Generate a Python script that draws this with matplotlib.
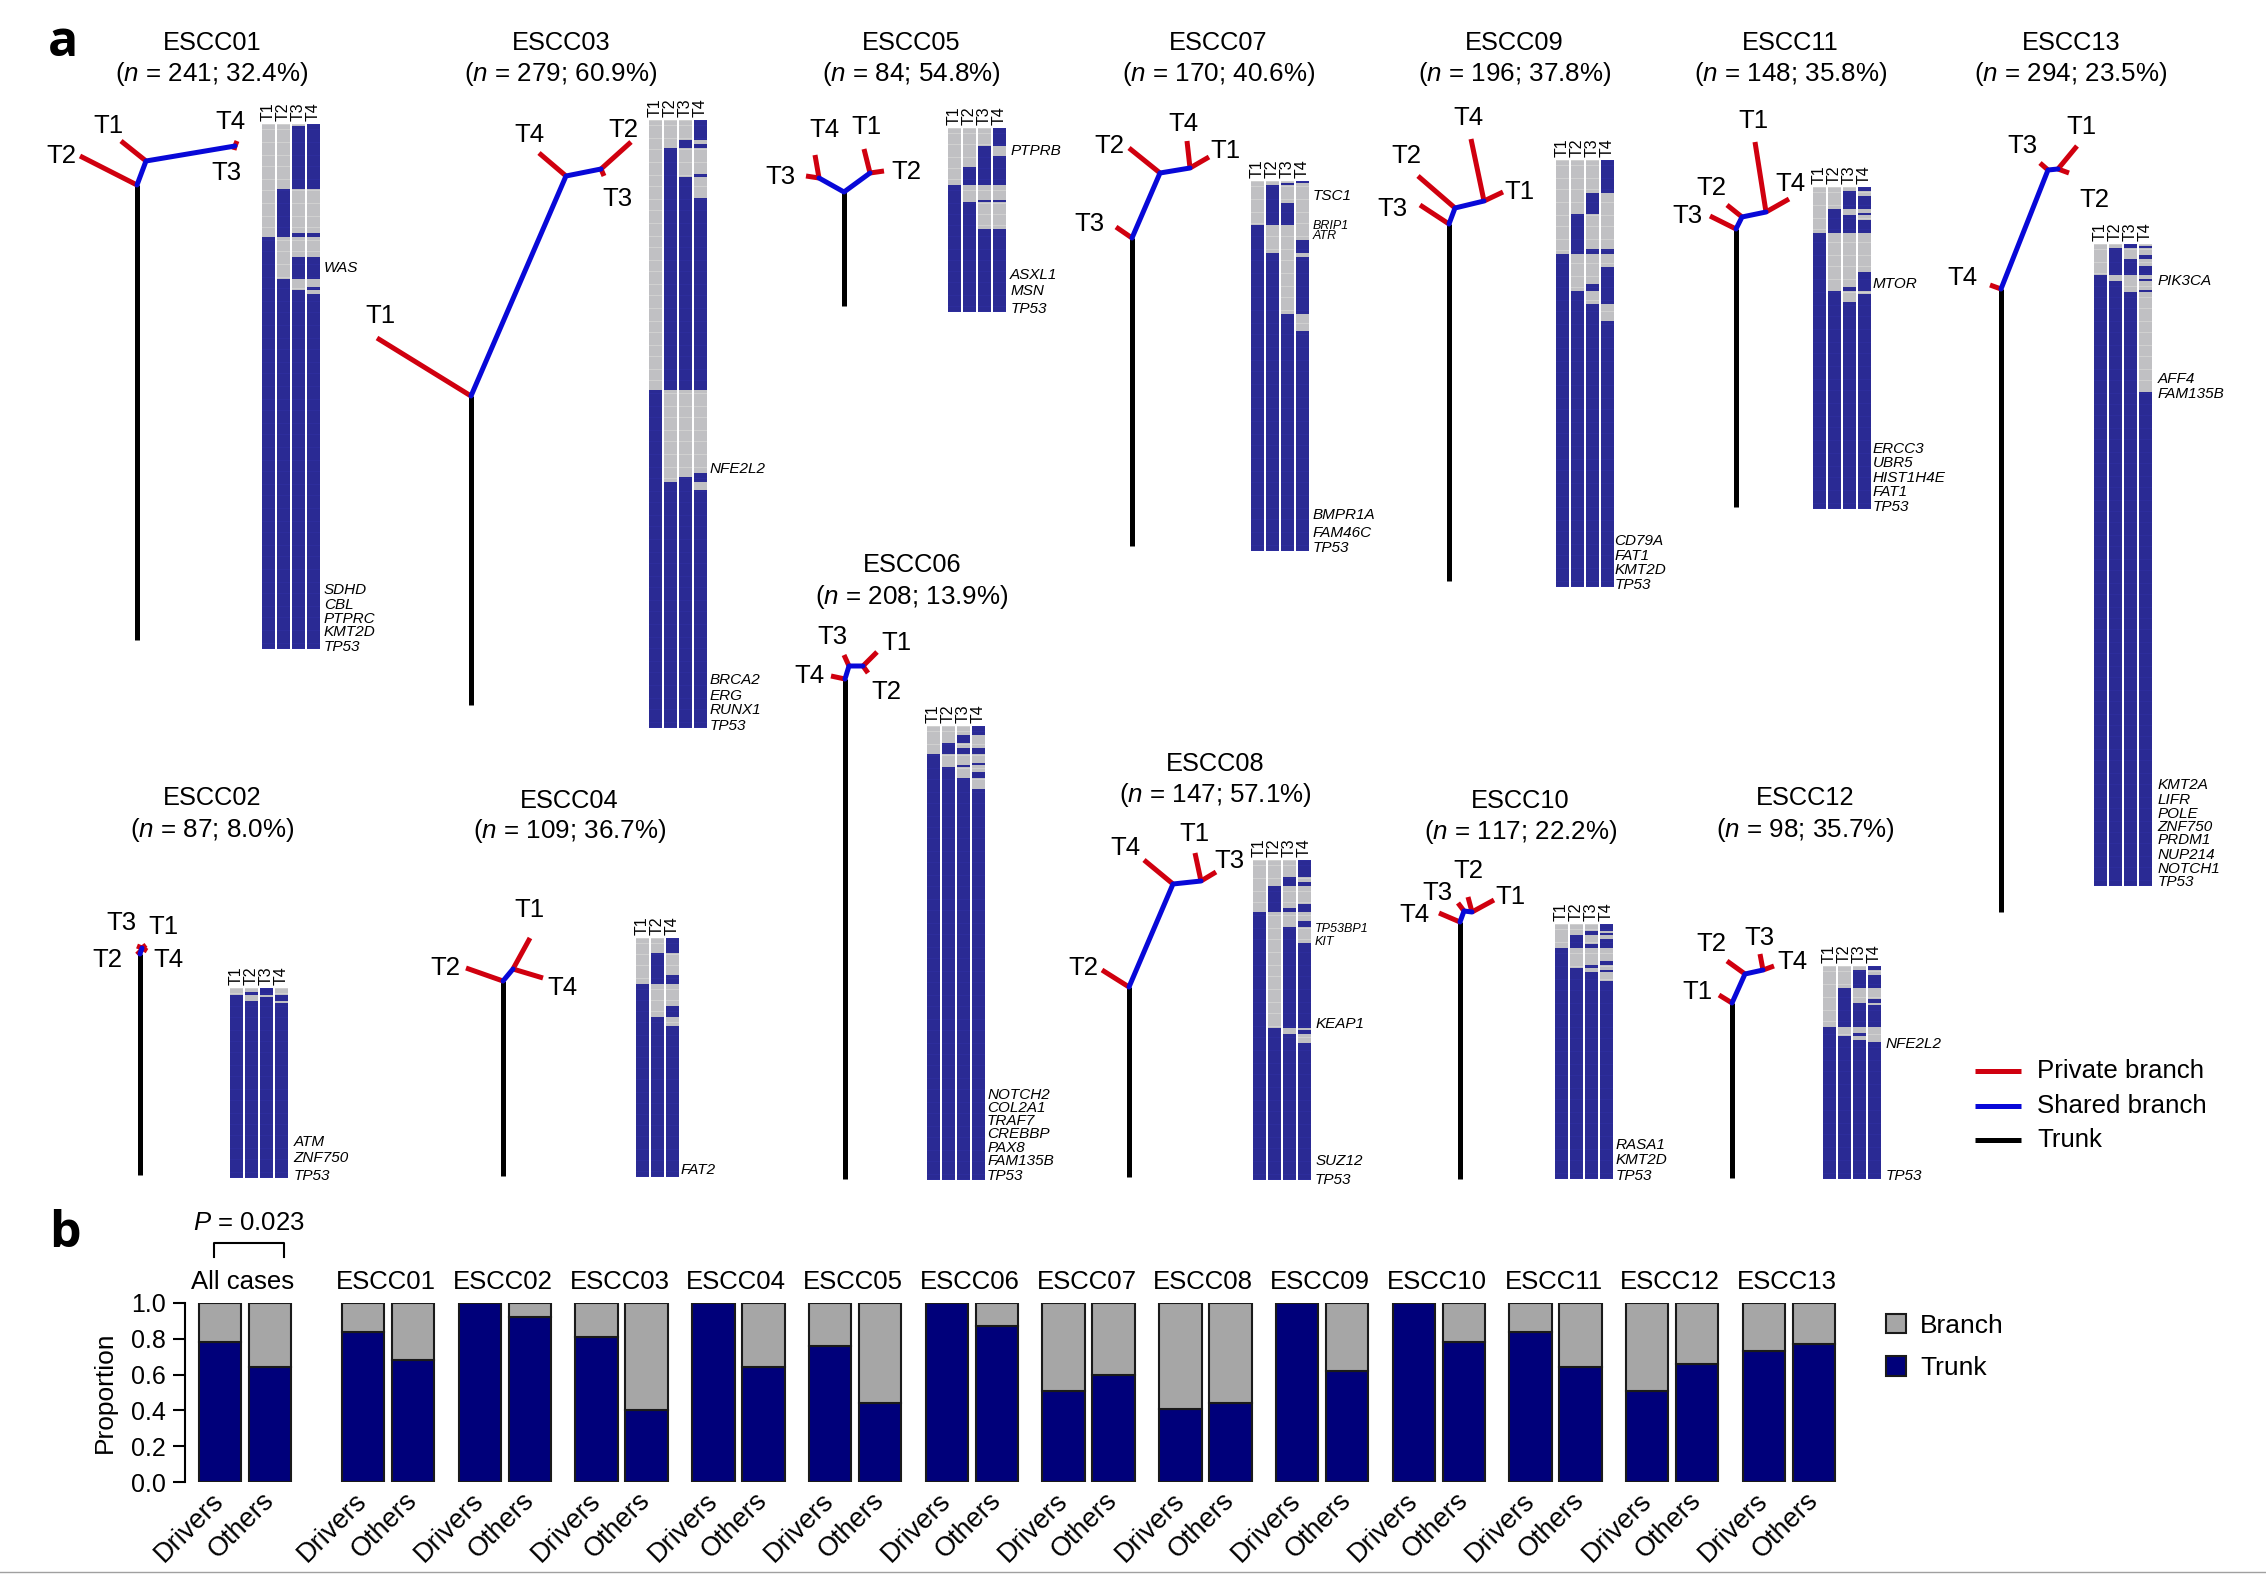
import numpy as np
import matplotlib
matplotlib.use('Agg')
import matplotlib.pyplot as plt
from matplotlib.colors import ListedColormap
from matplotlib.patches import Patch
from matplotlib.transforms import ScaledTranslation

plt.rcParams['font.family'] = ['Liberation Sans', 'DejaVu Sans']
plt.rcParams['mathtext.fontset'] = 'custom'
plt.rcParams['mathtext.rm'] = 'Liberation Sans'
plt.rcParams['mathtext.it'] = 'Liberation Sans:italic'

SHRINK = 2266 / 1568

# ---- panel a data: mutation counts and clonal percentage
CASES = ['ESCC01', 'ESCC02', 'ESCC03', 'ESCC04', 'ESCC05', 'ESCC06', 'ESCC07',
         'ESCC08', 'ESCC09', 'ESCC10', 'ESCC11', 'ESCC12', 'ESCC13']
N_MUT = [241, 87, 279, 109, 84, 208, 170, 147, 196, 117, 148, 98, 294]
PCT = [32.4, 8.0, 60.9, 36.7, 54.8, 13.9, 40.6, 57.1, 37.8, 22.2, 35.8, 35.7, 23.5]

# rows where each tumour region carries the mutation, as (first, last) runs
RUNS = {
    'ESCC01': [[(52, 241)],
               [(30, 52), (71, 241)],
               [(1, 30), (50, 52), (61, 71), (76, 241)],
               [(0, 30), (50, 52), (61, 71), (75, 76), (78, 241)]],
    'ESCC02': [[(3, 87)],
               [(2, 3), (6, 87)],
               [(0, 3), (4, 87)],
               [(3, 6), (7, 87)]],
    'ESCC03': [[(124, 279)],
               [(13, 124), (166, 279)],
               [(9, 13), (26, 124), (164, 279)],
               [(0, 9), (11, 13), (25, 26), (36, 124), (162, 166), (170, 279)]],
    'ESCC04': [[(21, 109)],
               [(7, 21), (36, 109)],
               [(0, 7), (17, 21), (31, 36), (40, 109)]],
    'ESCC05': [[(26, 84)],
               [(18, 26), (34, 84)],
               [(8, 26), (33, 34), (46, 84)],
               [(0, 8), (13, 26), (33, 34), (46, 84)]],
    'ESCC06': [[(13, 208)],
               [(8, 13), (19, 208)],
               [(4, 8), (10, 13), (18, 19), (24, 208)],
               [(0, 4), (10, 13), (17, 18), (21, 24), (29, 208)]],
    'ESCC07': [[(20, 170)],
               [(2, 20), (33, 170)],
               [(1, 2), (10, 20), (61, 170)],
               [(0, 1), (27, 33), (35, 61), (69, 170)]],
    'ESCC08': [[(24, 147)],
               [(12, 24), (77, 147)],
               [(8, 12), (22, 24), (31, 77), (80, 147)],
               [(0, 8), (10, 12), (20, 24), (28, 31), (38, 77), (78, 80), (84, 147)]],
    'ESCC09': [[(43, 196)],
               [(25, 43), (60, 196)],
               [(15, 25), (41, 43), (57, 60), (66, 196)],
               [(0, 15), (41, 43), (49, 66), (74, 196)]],
    'ESCC10': [[(11, 117)],
               [(5, 11), (20, 117)],
               [(3, 5), (9, 11), (19, 20), (22, 117)],
               [(0, 3), (4, 5), (7, 11), (17, 19), (21, 22), (26, 117)]],
    'ESCC11': [[(21, 148)],
               [(10, 21), (48, 148)],
               [(2, 10), (13, 21), (46, 48), (53, 148)],
               [(0, 2), (4, 10), (12, 13), (15, 21), (39, 48), (49, 148)]],
    'ESCC12': [[(28, 98)],
               [(10, 28), (32, 98)],
               [(2, 10), (17, 28), (31, 32), (34, 98)],
               [(0, 2), (4, 10), (15, 17), (18, 28), (35, 98)]],
    'ESCC13': [[(14, 294)],
               [(2, 14), (17, 294)],
               [(0, 2), (7, 14), (22, 294)],
               [(1, 2), (5, 7), (10, 14), (16, 17), (21, 22), (68, 294)]],
}
REGIONS = {c: ['T1', 'T2', 'T3', 'T4'] for c in CASES}
REGIONS['ESCC04'] = ['T1', 'T2', 'T4']

GENES = {
    'ESCC01': ['WAS', 'SDHD', 'CBL', 'PTPRC', 'KMT2D', 'TP53'],
    'ESCC02': ['ATM', 'ZNF750', 'TP53'],
    'ESCC03': ['NFE2L2', 'BRCA2', 'ERG', 'RUNX1', 'TP53'],
    'ESCC04': ['FAT2'],
    'ESCC05': ['PTPRB', 'ASXL1', 'MSN', 'TP53'],
    'ESCC06': ['NOTCH2', 'COL2A1', 'TRAF7', 'CREBBP', 'PAX8', 'FAM135B', 'TP53'],
    'ESCC07': ['TSC1', 'BRIP1', 'ATR', 'BMPR1A', 'FAM46C', 'TP53'],
    'ESCC08': ['TP53BP1', 'KIT', 'KEAP1', 'SUZ12', 'TP53'],
    'ESCC09': ['CD79A', 'FAT1', 'KMT2D', 'TP53'],
    'ESCC10': ['RASA1', 'KMT2D', 'TP53'],
    'ESCC11': ['MTOR', 'ERCC3', 'UBR5', 'HIST1H4E', 'FAT1', 'TP53'],
    'ESCC12': ['NFE2L2', 'TP53'],
    'ESCC13': ['PIK3CA', 'AFF4', 'FAM135B', 'KMT2A', 'LIFR', 'POLE', 'ZNF750',
               'PRDM1', 'NUP214', 'NOTCH1', 'TP53'],
}

# phylogenetic trees in image pixels
TRUNK = {
    'ESCC01': (137, 185, 640), 'ESCC02': (140, 954, 1175), 'ESCC03': (471, 396, 705),
    'ESCC04': (503, 981, 1176), 'ESCC05': (844, 192, 306), 'ESCC06': (845, 679, 1179),
    'ESCC07': (1132, 238, 546), 'ESCC08': (1129, 987, 1177), 'ESCC09': (1449, 224, 581),
    'ESCC10': (1460, 922, 1179), 'ESCC11': (1736, 229, 507), 'ESCC12': (1732, 1003, 1178),
    'ESCC13': (2001, 289, 912),
}
SHARED = {
    'ESCC01': [[(137, 185), (146, 161), (235, 146)]],
    'ESCC02': [[(140, 954), (142, 948)]],
    'ESCC03': [[(471, 396), (566, 176), (601, 169)]],
    'ESCC04': [[(503, 981), (513, 969)]],
    'ESCC05': [[(819, 178), (844, 192), (870, 173)]],
    'ESCC06': [[(845, 679), (849, 666), (863, 666)]],
    'ESCC07': [[(1132, 238), (1160, 173), (1190, 168)]],
    'ESCC08': [[(1129, 987), (1173, 884), (1201, 881)]],
    'ESCC09': [[(1449, 224), (1455, 208), (1484, 201)]],
    'ESCC10': [[(1460, 922), (1464, 911), (1472, 912)]],
    'ESCC11': [[(1736, 229), (1742, 217), (1766, 212)]],
    'ESCC12': [[(1732, 1003), (1745, 974), (1763, 970)]],
    'ESCC13': [[(2001, 289), (2048, 170), (2058, 169)]],
}
PRIVATE = {
    'ESCC01': [[(137, 185), (80, 156)], [(146, 161), (121, 141)],
               [(235, 146), (237, 141)], [(235, 146), (234, 150)]],
    'ESCC02': [[(142, 948), (137, 946)], [(142, 948), (146, 945)],
               [(142, 948), (147, 951)], [(140, 954), (137, 951)]],
    'ESCC03': [[(471, 396), (377, 338)], [(566, 176), (539, 153)],
               [(601, 169), (631, 142)], [(601, 169), (604, 176)]],
    'ESCC04': [[(503, 981), (466, 968)], [(513, 969), (530, 938)],
               [(513, 969), (543, 978)]],
    'ESCC05': [[(819, 178), (815, 155)], [(819, 178), (806, 176)],
               [(870, 173), (864, 149)], [(870, 173), (884, 171)]],
    'ESCC06': [[(845, 679), (831, 676)], [(849, 666), (844, 655)],
               [(863, 666), (877, 652)], [(863, 666), (868, 673)]],
    'ESCC07': [[(1132, 238), (1116, 227)], [(1160, 173), (1129, 148)],
               [(1190, 168), (1187, 141)], [(1190, 168), (1209, 157)]],
    'ESCC08': [[(1129, 987), (1102, 970)], [(1173, 884), (1144, 860)],
               [(1201, 881), (1195, 853)], [(1201, 881), (1216, 872)]],
    'ESCC09': [[(1449, 224), (1420, 205)], [(1455, 208), (1418, 176)],
               [(1484, 201), (1471, 139)], [(1484, 201), (1503, 192)]],
    'ESCC10': [[(1460, 922), (1439, 913)], [(1464, 911), (1458, 903)],
               [(1472, 912), (1468, 897)], [(1472, 912), (1494, 900)]],
    'ESCC11': [[(1736, 229), (1710, 216)], [(1742, 217), (1727, 205)],
               [(1766, 212), (1755, 142)], [(1766, 212), (1789, 199)]],
    'ESCC12': [[(1732, 1003), (1719, 995)], [(1745, 974), (1727, 961)],
               [(1763, 970), (1760, 954)], [(1763, 970), (1774, 966)]],
    'ESCC13': [[(2001, 289), (1990, 285)], [(2048, 170), (2040, 163)],
               [(2058, 169), (2077, 146)], [(2058, 169), (2069, 173)]],
}

# ---- panel b data: trunk share of mutations
BAR_GROUPS = ['All cases'] + CASES
DRIVERS = [0.78, 0.84, 1.0, 0.81, 1.0, 0.76, 1.0, 0.51, 0.41, 1.0, 1.0, 0.84, 0.51, 0.73]
OTHERS = [0.64, 0.68, 0.92, 0.40, 0.64, 0.44, 0.87, 0.60, 0.44, 0.62, 0.78, 0.64, 0.66, 0.77]

# ---- layout, image pixels unless noted
HEAT_BOX = {
    'ESCC01': (262, 124, 649), 'ESCC02': (230, 988, 1178), 'ESCC03': (649, 120, 728),
    'ESCC04': (636, 938, 1177), 'ESCC05': (948, 128, 312), 'ESCC06': (927, 726, 1180),
    'ESCC07': (1251, 181, 551), 'ESCC08': (1253, 860, 1180), 'ESCC09': (1556, 160, 587),
    'ESCC10': (1555, 924, 1179), 'ESCC11': (1813, 187, 509), 'ESCC12': (1823, 966, 1179),
    'ESCC13': (2094, 244, 886),
}
# title centre and the y of its two lines, in shrunk-picture pixels
TITLE_POS = {
    'ESCC01': (146.5, 30, 51), 'ESCC02': (146.5, 552, 574), 'ESCC03': (388, 30, 51),
    'ESCC04': (394, 554, 575), 'ESCC05': (630.5, 30, 51), 'ESCC06': (631, 391, 413),
    'ESCC07': (843, 30, 51), 'ESCC08': (841, 529, 550), 'ESCC09': (1048, 30, 51),
    'ESCC10': (1052, 554, 576), 'ESCC11': (1239, 30, 51), 'ESCC12': (1249, 552, 574),
    'ESCC13': (1433, 30, 51),
}
GENE_X = {'ESCC01': 224, 'ESCC02': 203, 'ESCC03': 491, 'ESCC04': 471, 'ESCC05': 699,
          'ESCC06': 683, 'ESCC07': 908, 'ESCC08': 910, 'ESCC09': 1117, 'ESCC10': 1118,
          'ESCC11': 1296, 'ESCC12': 1305, 'ESCC13': 1493}
GENE_Y = {
    'ESCC01': [185, 408, 418, 428, 437, 447],
    'ESCC02': [790, 801, 813],
    'ESCC03': [324, 470, 481, 491, 502],
    'ESCC04': [809],
    'ESCC05': [104, 190, 201, 213],
    'ESCC06': [757, 766, 775, 784, 794, 803, 813],
    'ESCC07': [135, 156, 163, 356, 368, 379],
    'ESCC08': [642, 651, 708, 803, 816],
    'ESCC09': [374, 384, 394, 404],
    'ESCC10': [792, 802, 813],
    'ESCC11': [196, 310, 320, 330, 340, 350],
    'ESCC12': [722, 813],
    'ESCC13': [194, 262, 272, 543, 553, 563, 572, 581, 591, 601, 610],
}
SMALL_GENES = ['BRIP1', 'ATR', 'TP53BP1', 'KIT']
# tip labels, full-picture pixels
TIP_LABELS = {
    'ESCC01': [('T1', 108, 126), ('T2', 61, 156), ('T3', 226, 173), ('T4', 230, 122)],
    'ESCC02': [('T1', 163, 927), ('T2', 107, 960), ('T3', 121, 923), ('T4', 168, 960)],
    'ESCC03': [('T1', 380, 316), ('T2', 623, 130), ('T3', 617, 199), ('T4', 529, 135)],
    'ESCC04': [('T1', 529, 910), ('T2', 445, 968), ('T4', 562, 988)],
    'ESCC05': [('T1', 866, 127), ('T2', 906, 172), ('T3', 780, 177), ('T4', 824, 130)],
    'ESCC06': [('T1', 896, 643), ('T2', 886, 692), ('T3', 832, 637), ('T4', 809, 676)],
    'ESCC07': [('T1', 1225, 151), ('T2', 1109, 146), ('T3', 1089, 224), ('T4', 1183, 124)],
    'ESCC08': [('T1', 1194, 834), ('T2', 1083, 968), ('T3', 1229, 861), ('T4', 1125, 848)],
    'ESCC09': [('T1', 1519, 192), ('T2', 1406, 156), ('T3', 1392, 209), ('T4', 1468, 118)],
    'ESCC10': [('T1', 1510, 897), ('T2', 1468, 871), ('T3', 1437, 893), ('T4', 1414, 915)],
    'ESCC11': [('T1', 1753, 121), ('T2', 1711, 188), ('T3', 1687, 216), ('T4', 1790, 184)],
    'ESCC12': [('T1', 1697, 992), ('T2', 1711, 944), ('T3', 1759, 938), ('T4', 1792, 962)],
    'ESCC13': [('T1', 2081, 127), ('T2', 2094, 200), ('T3', 2022, 146), ('T4', 1962, 278)],
}

RED = '#d0000f'
BLUE = '#0808d8'
HEAT_BLUE = '#2d2d9c'
HEAT_GREY = '#d0d0d0'
NAVY = '#00007a'
BAR_GREY = '#a6a6a6'
COL_W = 12.5
COL_STEP = 15
TREE_LW = 3.6

fig = plt.figure(figsize=(22.66, 15.74), dpi=100)
ax = fig.add_axes([0, 0, 1, 1])
ax.axis('off')
ax.patch.set_alpha(0)

cmap = ListedColormap([HEAT_GREY, HEAT_BLUE])

for case, n, pct in zip(CASES, N_MUT, PCT):
    # title
    tx, ty1, ty2 = TITLE_POS[case]
    ax.text(tx * SHRINK, ty1 * SHRINK, case, ha='center', va='center', fontsize=18.3)
    ax.text(tx * SHRINK, ty2 * SHRINK, r'($\mathit{n}$ = %d; %.1f%%)' % (n, pct),
            ha='center', va='center', fontsize=18.7)

    # tree
    x, y0, y1 = TRUNK[case]
    ax.plot([x, x], [y0, y1], color='black', lw=TREE_LW, solid_capstyle='butt', zorder=3)
    for path in PRIVATE[case]:
        px = [p[0] for p in path]
        py = [p[1] for p in path]
        ax.plot(px, py, color=RED, lw=TREE_LW, solid_capstyle='butt', zorder=4)
    for path in SHARED[case]:
        px = [p[0] for p in path]
        py = [p[1] for p in path]
        ax.plot(px, py, color=BLUE, lw=TREE_LW, solid_capstyle='round', zorder=5)
    for label, lx, ly in TIP_LABELS[case]:
        ax.text(lx, ly, label, ha='center', va='center', fontsize=18.5)

    # mutation heatmap
    left, top, bottom = HEAT_BOX[case]
    row_h = (bottom - top) / n
    for i, (region, runs) in enumerate(zip(REGIONS[case], RUNS[case])):
        col = np.zeros((n, 1))
        for a, b in runs:
            col[a:b] = 1
        x0 = left + i * COL_STEP
        ax.imshow(col, cmap=cmap, vmin=0, vmax=1, aspect='auto', interpolation='nearest',
                  extent=(x0, x0 + COL_W, bottom, top), zorder=2)
        ys = top + row_h * np.arange(1, n)
        ax.hlines(ys, x0, x0 + COL_W, color='#14143c', lw=0.3, alpha=0.4, zorder=3)
        ax.text(x0 + COL_W / 2, top - 3, region, rotation=90, ha='center', va='bottom',
                fontsize=11.5)

    # driver genes
    for gene, gy in zip(GENES[case], GENE_Y[case]):
        fs = 9 if gene in SMALL_GENES else 11
        ax.text(GENE_X[case] * SHRINK, (gy + 0.5) * SHRINK, gene, style='italic', ha='left',
                va='center', fontsize=fs)

# panel letters
ax.text(63, 43, 'a', family='Open Sans', weight='bold', fontsize=36, ha='center', va='center')
ax.text(65, 1234, 'b', family='Open Sans', weight='bold', fontsize=36, ha='center', va='center')

# tree legend
legend_rows = [('Private branch', RED, 1071), ('Shared branch', BLUE, 1106), ('Trunk', 'black', 1140)]
for name, color, ly in legend_rows:
    ax.plot([1975, 2021], [ly, ly], color=color, lw=TREE_LW, solid_capstyle='butt')
    ax.text(2037, ly, name, ha='left', va='center', fontsize=18.6)

# thin rule at the bottom of the page
ax.plot([0, 2266], [1572, 1572], color='#a0a0a0', lw=1)

ax.set_xlim(0, 2266)
ax.set_ylim(1574, 0)

# ---- panel b
ax2 = fig.add_axes([185 / 2266, 1 - 1482 / 1574, (1840 - 185) / 2266, (1482 - 1303) / 1574])
ax2.patch.set_alpha(0)
GROUP_X = [0.0] + [2.86 + 2.335 * i for i in range(13)]
tick_x = []
tick_lab = []
for gx, name, d, o in zip(GROUP_X, BAR_GROUPS, DRIVERS, OTHERS):
    for xb, v, lab in [(gx, d, 'Drivers'), (gx + 1, o, 'Others')]:
        ax2.bar(xb, v, width=0.85, color=NAVY, edgecolor='#1a1a1a', lw=1.5)
        if v < 1:
            ax2.bar(xb, 1 - v, bottom=v, width=0.85, color=BAR_GREY, edgecolor='#1a1a1a', lw=1.5)
        tick_x.append(xb)
        tick_lab.append(lab)
    ax2.text(gx + 0.46, 1.115, name, ha='center', va='center', fontsize=18.5)

ax2.set_xlim(-0.7, 32.4)
ax2.set_ylim(0, 1)
ax2.set_yticks([0, 0.2, 0.4, 0.6, 0.8, 1.0])
ax2.set_yticklabels(['0.0', '0.2', '0.4', '0.6', '0.8', '1.0'], fontsize=18)
ax2.set_xticks(tick_x)
ax2.set_xticklabels(tick_lab, rotation=45, ha='right', rotation_mode='anchor', fontsize=19.5)
ax2.tick_params(axis='x', length=0, pad=4)
ax2.tick_params(axis='y', length=9, width=1.5, pad=5)
# pull the slanted labels back under their bars
shift = ScaledTranslation(-0.09, 0, fig.dpi_scale_trans)
for lab in ax2.get_xticklabels():
    lab.set_transform(lab.get_transform() + shift)
ax2.set_ylabel('Proportion', fontsize=19, labelpad=10)
for side in ['top', 'right', 'bottom']:
    ax2.spines[side].set_visible(False)
ax2.spines['left'].set_linewidth(1.5)

# significance bracket
ax2.plot([-0.12, -0.12, 1.28, 1.28], [1.257, 1.335, 1.335, 1.257], color='black', lw=1.5, clip_on=False)
ax2.text(0.58, 1.447, r'$\mathit{P}$ = 0.023', ha='center', va='center', fontsize=18.5)

handles = [Patch(facecolor=BAR_GREY, edgecolor='#1a1a1a', lw=1.5, label='Branch'),
           Patch(facecolor=NAVY, edgecolor='#1a1a1a', lw=1.5, label='Trunk')]
fig.legend(handles=handles, loc='upper left', bbox_to_anchor=(1862 / 2266, 1 - 1290 / 1574),
           frameon=False, fontsize=19, handlelength=0.75, handleheight=0.75,
           labelspacing=0.7, handletextpad=0.55)

fig.savefig('out.png', dpi=100)
